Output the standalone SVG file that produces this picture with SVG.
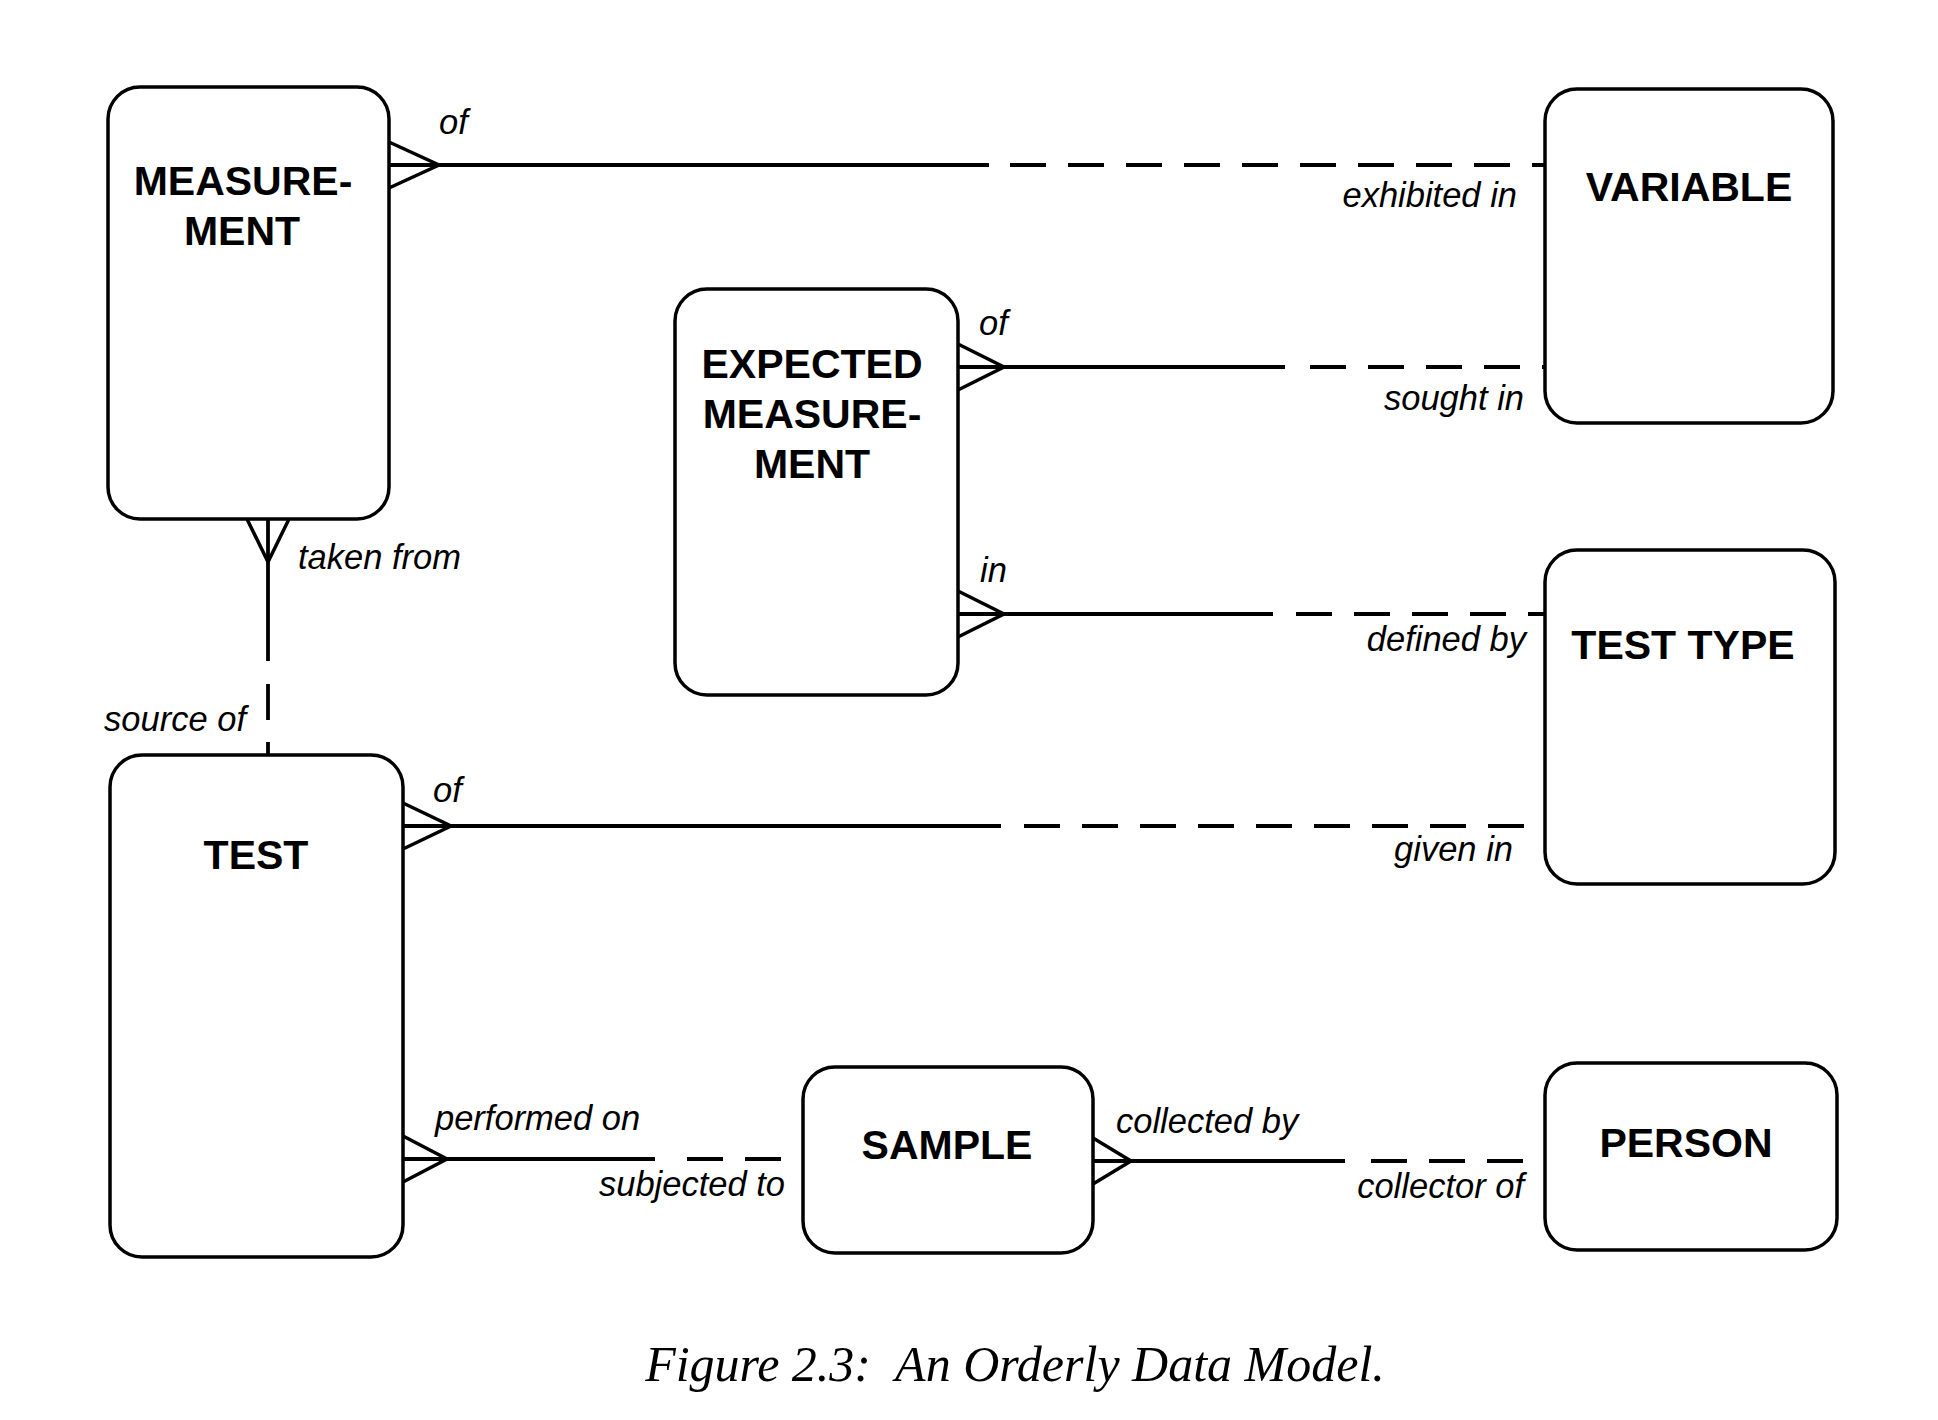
<svg xmlns="http://www.w3.org/2000/svg" width="1938" height="1420" viewBox="0 0 1938 1420">
<style>
.box{fill:#fff;stroke:#000;stroke-width:3.5}
.nl{font-family:"Liberation Sans",Arial,sans-serif;font-weight:bold;font-size:41px;text-anchor:middle;fill:#000}
.rl{font-family:"Liberation Sans",Arial,sans-serif;font-style:italic;font-size:34.5px;fill:#000}
.end{text-anchor:end}
.solid{stroke:#000;stroke-width:3.8;fill:none}
.dash{stroke:#000;stroke-width:3.8;fill:none;stroke-dasharray:36 22}
.crow{stroke:#000;stroke-width:3.5;fill:none;stroke-linejoin:miter}
.cap{font-family:"Liberation Serif","Times New Roman",serif;font-style:italic;font-size:50px;text-anchor:middle;fill:#000;white-space:pre}
</style>
<rect width="1938" height="1420" fill="#fff"/>
<g id="connectors">
  <!-- MEASUREMENT - VARIABLE -->
  <g id="c-meas-var">
    <path class="crow" d="M389,142 L439,165 L389,188"/>
    <line class="solid" x1="389" y1="165" x2="989" y2="165"/>
    <line class="dash" x1="1010" y1="165" x2="1545" y2="165"/>
    <text class="rl" x="439" y="134">of</text>
    <text class="rl end" x="1517" y="207">exhibited in</text>
  </g>
  <!-- EXPECTED - VARIABLE -->
  <g id="c-exp-var">
    <path class="crow" d="M958,344 L1004,367 L958,390"/>
    <line class="solid" x1="958" y1="367" x2="1285" y2="367"/>
    <line class="dash" x1="1310" y1="367" x2="1545" y2="367"/>
    <text class="rl" x="979" y="335">of</text>
    <text class="rl end" x="1524" y="410">sought in</text>
  </g>
  <!-- EXPECTED - TEST TYPE -->
  <g id="c-exp-tt">
    <path class="crow" d="M958,591 L1004,614 L958,637"/>
    <line class="solid" x1="958" y1="614" x2="1273" y2="614"/>
    <line class="dash" x1="1296" y1="614" x2="1545" y2="614"/>
    <text class="rl" x="980" y="582">in</text>
    <text class="rl end" x="1526" y="651">defined by</text>
  </g>
  <!-- TEST - TEST TYPE -->
  <g id="c-test-tt">
    <path class="crow" d="M403,803 L451,826 L403,849"/>
    <line class="solid" x1="403" y1="826" x2="1001" y2="826"/>
    <line class="dash" x1="1024" y1="826" x2="1545" y2="826"/>
    <text class="rl" x="433" y="802">of</text>
    <text class="rl end" x="1513" y="861">given in</text>
  </g>
  <!-- MEASUREMENT - TEST -->
  <g id="c-meas-test">
    <path class="crow" d="M247,519 L268,562 L289,519"/>
    <line class="solid" x1="268" y1="519" x2="268" y2="661"/>
    <line class="dash" x1="268" y1="684" x2="268" y2="755"/>
    <text class="rl" x="298" y="569">taken from</text>
    <text class="rl end" x="246" y="731">source of</text>
  </g>
  <!-- TEST - SAMPLE -->
  <g id="c-test-sample">
    <path class="crow" d="M403,1136 L447,1159 L403,1182"/>
    <line class="solid" x1="403" y1="1159" x2="655" y2="1159"/>
    <line class="dash" x1="687" y1="1159" x2="803" y2="1159"/>
    <text class="rl" x="435" y="1130">performed on</text>
    <text class="rl end" x="785" y="1196">subjected to</text>
  </g>
  <!-- SAMPLE - PERSON -->
  <g id="c-sample-person">
    <path class="crow" d="M1093,1138 L1131,1161 L1093,1184"/>
    <line class="solid" x1="1093" y1="1161" x2="1345" y2="1161"/>
    <line class="dash" x1="1371" y1="1161" x2="1545" y2="1161"/>
    <text class="rl" x="1116" y="1133">collected by</text>
    <text class="rl end" x="1524" y="1198">collector of</text>
  </g>
</g>
<g id="measurement">
  <rect class="box" x="108" y="87" width="281" height="432" rx="32"/>
  <text class="nl" x="243" y="195">MEASURE-</text>
  <text class="nl" x="242" y="245">MENT</text>
</g>
<g id="variable">
  <rect class="box" x="1545" y="89" width="288" height="334" rx="32"/>
  <text class="nl" x="1689" y="201">VARIABLE</text>
</g>
<g id="expected-measurement">
  <rect class="box" x="675" y="289" width="283" height="406" rx="32"/>
  <text class="nl" x="812" y="378">EXPECTED</text>
  <text class="nl" x="812" y="428">MEASURE-</text>
  <text class="nl" x="812" y="478">MENT</text>
</g>
<g id="test-type">
  <rect class="box" x="1545" y="550" width="290" height="334" rx="32"/>
  <text class="nl" x="1683" y="659">TEST TYPE</text>
</g>
<g id="test">
  <rect class="box" x="110" y="755" width="293" height="502" rx="32"/>
  <text class="nl" x="256" y="869">TEST</text>
</g>
<g id="sample">
  <rect class="box" x="803" y="1067" width="290" height="186" rx="32"/>
  <text class="nl" x="947" y="1159">SAMPLE</text>
</g>
<g id="person">
  <rect class="box" x="1545" y="1063" width="292" height="187" rx="32"/>
  <text class="nl" x="1686" y="1157">PERSON</text>
</g>
<text class="cap" x="1015" y="1381" xml:space="preserve">Figure 2.3:  An Orderly Data Model.</text>
</svg>
